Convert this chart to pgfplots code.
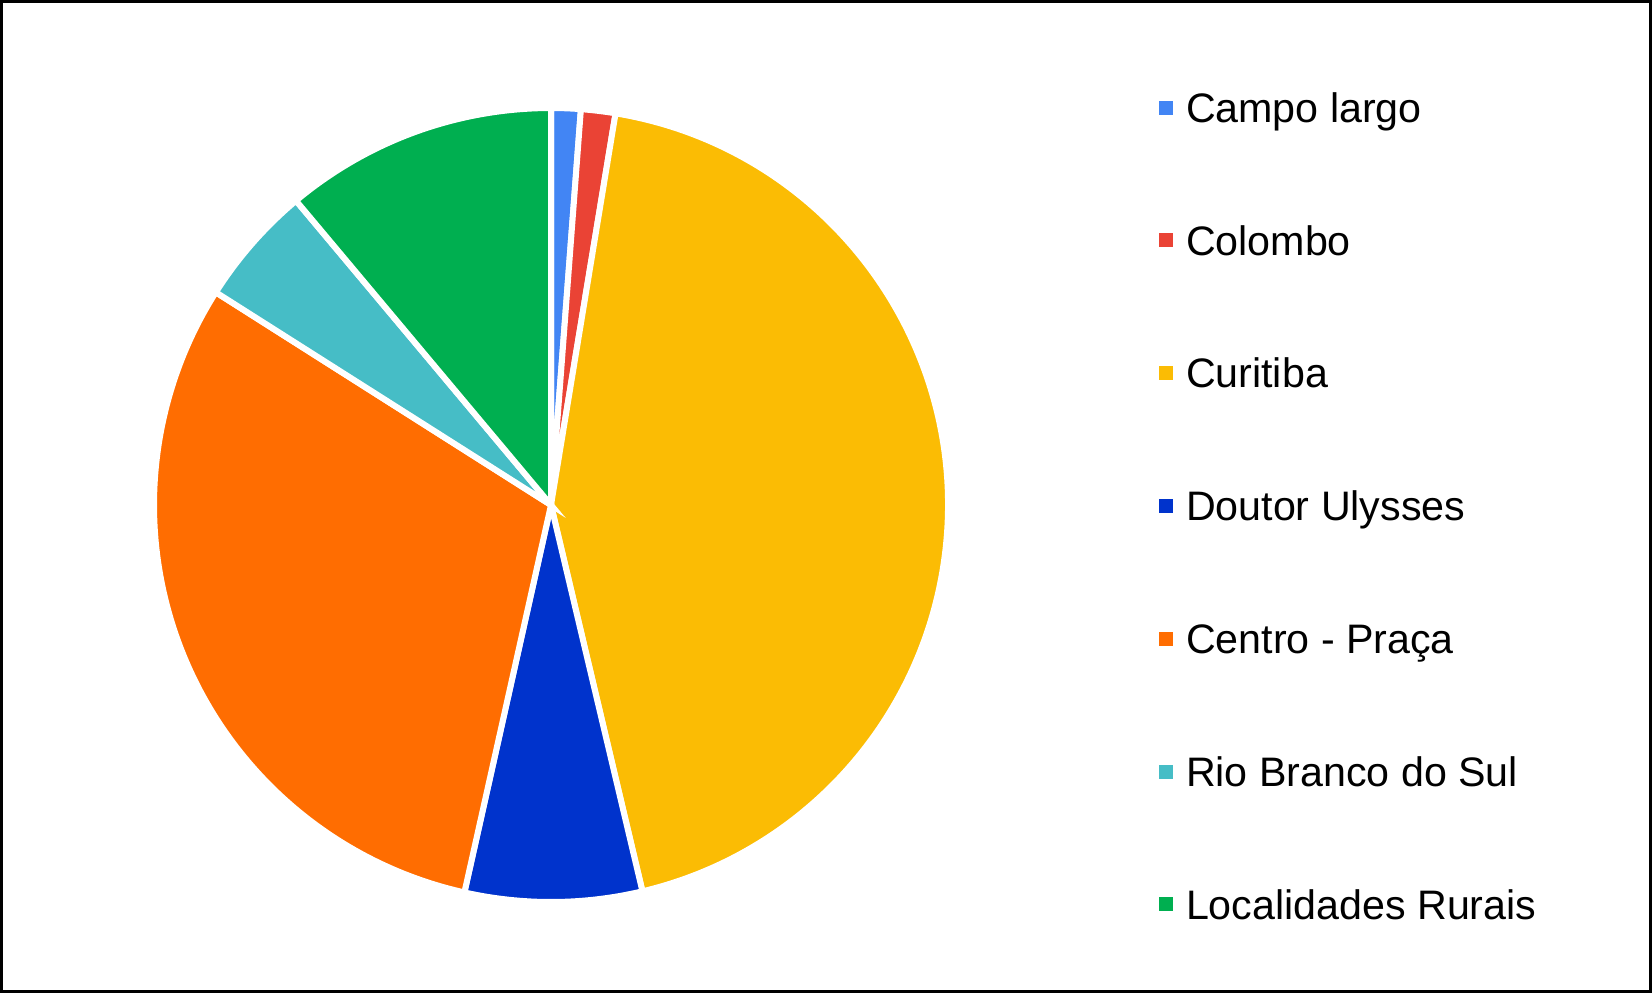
\documentclass[border=0pt]{standalone}
\usepackage{pgfplots}
\usepackage{pgfplotstable}
\pgfplotsset{compat=1.18}
\usepackage{fontspec}
\setmainfont{Liberation Sans}
\definecolor{c1}{HTML}{4285F4}
\definecolor{c2}{HTML}{EA4335}
\definecolor{c3}{HTML}{FBBC04}
\definecolor{c4}{HTML}{0033CC}
\definecolor{c5}{HTML}{FF6D01}
\definecolor{c6}{HTML}{46BDC6}
\definecolor{c7}{HTML}{00AF50}
\pgfplotstableread[col sep=comma]{
name,value
Campo largo,1.2
Colombo,1.4
Curitiba,43.7
Doutor Ulysses,7.2
Centro - Praça,30.5
Rio Branco do Sul,4.9
Localidades Rurais,11.1
}\piedata
\begin{document}
\begin{tikzpicture}
\begin{axis}[
  scale only axis,
  width=824.5pt, height=495pt,
  xmin=1.5, xmax=1650.5, ymin=1.5, ymax=991.5,
  y dir=reverse,
  xtick=\empty, ytick=\empty,
  axis line style={line width=1.5pt, black},
  clip=false,
  legend image code/.code={\fill[#1, draw=none] (0pt,-3.5pt) rectangle (7pt,3.5pt);},
  legend cell align=left,
  legend style={at={(axis cs:1159,41.1)}, anchor=north west, draw=none, fill=none,
    inner sep=0pt, outer sep=0pt, row sep=0pt,
    font=\fontsize{20.6}{24}\selectfont,
    nodes={inner sep=0pt, text height=40.6pt, text depth=25.8pt},
    /tikz/every odd column/.append style={column sep=6.5pt}},
]
\def\cum{0}
\pgfplotsforeachungrouped \i in {0,...,6}{%
  \pgfplotstablegetelem{\i}{value}\of\piedata
  \let\v\pgfplotsretval
  \pgfmathsetmacro\a{90-3.6*\cum}%
  \pgfmathsetmacro\b{90-3.6*(\cum+\v)}%
  \pgfmathsetmacro\cumnew{\cum+\v}%
  \pgfmathtruncatemacro\k{\i+1}%
  \edef\temp{\noexpand\filldraw[fill=c\k, draw=white, line width=3pt] (axis cs:551,505) -- ++(\a:198.5pt) arc[start angle=\a, end angle=\b, radius=198.5pt] -- cycle;}%
  \temp
  \global\let\cum\cumnew
}
\addlegendimage{fill=c1}\addlegendentry{Campo largo}
\addlegendimage{fill=c2}\addlegendentry{Colombo}
\addlegendimage{fill=c3}\addlegendentry{Curitiba}
\addlegendimage{fill=c4}\addlegendentry{Doutor Ulysses}
\addlegendimage{fill=c5}\addlegendentry{Centro - Praça}
\addlegendimage{fill=c6}\addlegendentry{Rio Branco do Sul}
\addlegendimage{fill=c7}\addlegendentry{Localidades Rurais}
\end{axis}
\end{tikzpicture}
\end{document}
